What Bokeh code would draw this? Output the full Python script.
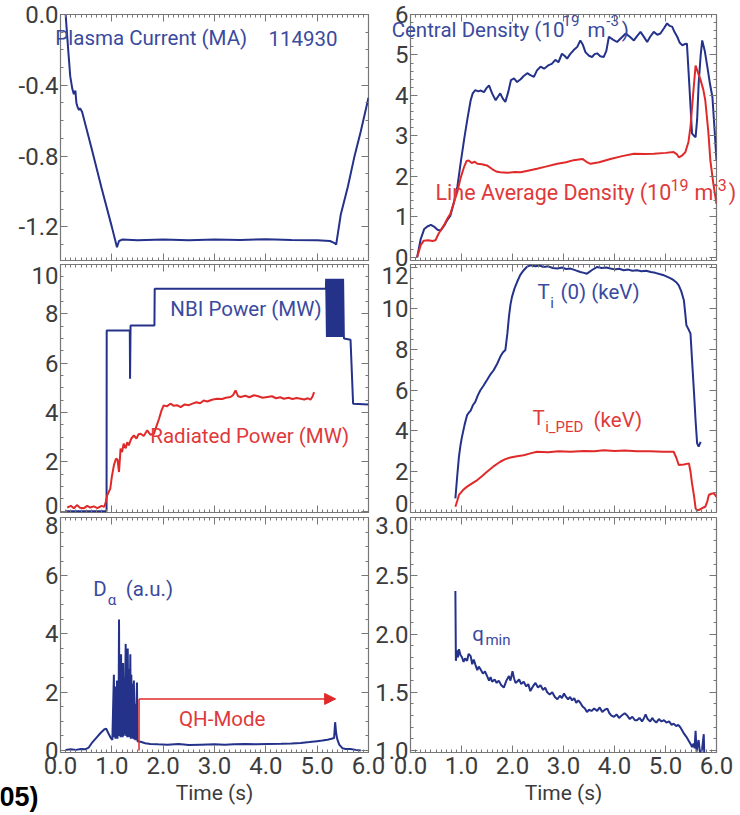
from bokeh.plotting import figure
from bokeh.models import (Range1d, LinearAxis, SingleIntervalTicker,
                          PrintfTickFormatter, Label, Arrow, NormalHead)
from bokeh.embed import file_html
from bokeh.resources import INLINE

# ------------------------------------------------------------------ data
TIME_RANGE = (0.0, 6.0)
SHOT = "114930"

# Plasma current (MA)
IP = [(0.10, 0.0), (0.12, -0.08), (0.15, -0.20), (0.19, -0.35), (0.23, -0.42),
      (0.26, -0.45), (0.29, -0.43), (0.31, -0.50), (0.33, -0.52), (0.36, -0.54),
      (0.38, -0.53), (0.42, -0.55), (0.60, -0.75), (0.80, -0.98), (1.00, -1.20),
      (1.10, -1.315), (1.14, -1.28), (1.20, -1.272), (1.50, -1.276), (2.00, -1.271),
      (2.50, -1.275), (3.00, -1.272), (3.50, -1.274), (4.00, -1.270), (4.50, -1.274),
      (5.00, -1.276), (5.25, -1.28), (5.33, -1.29), (5.37, -1.30), (5.46, -1.13),
      (5.60, -0.97), (5.72, -0.81), (5.85, -0.66), (6.00, -0.47)]

# Central density (1e19 m^-3)
NE0 = [(0.13, 0.00), (0.20, 0.45), (0.27, 0.70), (0.33, 0.76), (0.40, 0.80), (0.46, 0.76),
       (0.53, 0.68), (0.59, 0.66), (0.66, 0.78), (0.72, 0.92), (0.78, 1.02), (0.85, 1.35),
       (0.92, 1.75), (0.98, 2.30), (1.05, 2.90), (1.12, 3.45), (1.18, 3.88), (1.22, 4.05),
       (1.27, 4.13), (1.33, 4.10), (1.38, 4.12), (1.44, 4.08), (1.49, 4.18), (1.54, 4.25),
       (1.60, 4.05), (1.67, 3.88), (1.72, 3.98), (1.76, 4.05), (1.81, 3.92), (1.86, 3.84),
       (1.92, 4.10), (1.97, 4.38), (2.03, 4.42), (2.09, 4.33), (2.16, 4.40), (2.22, 4.48),
       (2.29, 4.55), (2.35, 4.50), (2.42, 4.46), (2.48, 4.62), (2.55, 4.71), (2.62, 4.66),
       (2.71, 4.75), (2.77, 4.78), (2.84, 4.88), (2.90, 4.82), (2.97, 5.03), (3.02, 4.98),
       (3.07, 4.91), (3.13, 5.02), (3.20, 5.12), (3.27, 5.20), (3.33, 5.36), (3.38, 5.25),
       (3.43, 5.07), (3.50, 4.98), (3.56, 4.95), (3.61, 5.02), (3.66, 5.04), (3.72, 4.97),
       (3.79, 4.95), (3.84, 5.10), (3.89, 5.45), (3.97, 5.38), (4.05, 5.32), (4.13, 5.42),
       (4.22, 5.53), (4.30, 5.45), (4.38, 5.36), (4.45, 5.48), (4.51, 5.57), (4.58, 5.44),
       (4.64, 5.32), (4.70, 5.45), (4.77, 5.57), (4.84, 5.50), (4.90, 5.53), (4.97, 5.66),
       (5.03, 5.78), (5.08, 5.72), (5.13, 5.70), (5.18, 5.56), (5.23, 5.45), (5.28, 5.30),
       (5.33, 5.24), (5.38, 5.27), (5.42, 5.28), (5.47, 4.20), (5.52, 3.06), (5.56, 3.00),
       (5.59, 2.97), (5.62, 3.40), (5.65, 4.29), (5.69, 5.00), (5.72, 5.36), (5.77, 5.10),
       (5.82, 4.71), (5.87, 4.30), (5.92, 3.96), (5.97, 3.00), (6.00, 2.39)]

# Line average density (1e19 m^-3)
NEL = [(0.13, 0.00), (0.20, 0.30), (0.26, 0.41), (0.35, 0.42), (0.43, 0.40), (0.49, 0.42),
       (0.55, 0.58), (0.59, 0.66), (0.66, 0.80), (0.72, 0.95), (0.78, 1.07), (0.85, 1.35),
       (0.92, 1.62), (0.98, 1.95), (1.05, 2.23), (1.10, 2.38), (1.14, 2.39), (1.20, 2.33),
       (1.26, 2.36), (1.31, 2.31), (1.40, 2.30), (1.50, 2.27), (1.60, 2.18), (1.68, 2.12),
       (1.76, 2.10), (1.90, 2.09), (2.05, 2.11), (2.16, 2.10), (2.30, 2.14), (2.48, 2.19),
       (2.65, 2.24), (2.88, 2.31), (3.05, 2.35), (3.20, 2.40), (3.37, 2.43), (3.45, 2.36),
       (3.53, 2.31), (3.70, 2.35), (3.92, 2.43), (4.15, 2.50), (4.38, 2.56), (4.60, 2.55),
       (4.77, 2.56), (5.00, 2.58), (5.16, 2.60), (5.22, 2.55), (5.26, 2.47), (5.33, 2.52),
       (5.39, 2.60), (5.45, 2.85), (5.49, 3.22), (5.54, 4.00), (5.59, 4.74), (5.64, 4.55),
       (5.69, 4.37), (5.74, 4.15), (5.78, 3.88), (5.84, 3.10), (5.88, 2.39), (5.94, 1.80),
       (6.00, 1.32)]

# NBI power (MW), including the modulated phase near the end
NBI = [(0.10, 0.0), (0.897, 0.0), (0.90, 7.33), (1.35, 7.33), (1.355, 5.37), (1.365, 7.53),
       (1.83, 7.53), (1.835, 9.02), (5.17, 9.02),
       (5.175, 9.42), (5.19, 7.06), (5.205, 9.42), (5.22, 7.06), (5.235, 9.42), (5.25, 7.06),
       (5.265, 9.42), (5.28, 7.06), (5.295, 9.42), (5.31, 7.06), (5.325, 9.42), (5.34, 7.06),
       (5.355, 9.42), (5.37, 7.06), (5.385, 9.42), (5.40, 7.06), (5.415, 9.42), (5.43, 7.06),
       (5.445, 9.42), (5.46, 7.06), (5.475, 9.42), (5.49, 7.06), (5.505, 9.42), (5.52, 7.06),
       (5.525, 7.00), (5.65, 6.95), (5.70, 4.36), (6.00, 4.33)]

# Radiated power (MW)
PRAD = [(0.13, 0.15), (0.20, 0.22), (0.26, 0.12), (0.32, 0.25), (0.38, 0.14), (0.45, 0.12),
        (0.52, 0.22), (0.58, 0.15), (0.65, 0.20), (0.72, 0.13), (0.80, 0.22), (0.85, 0.18),
        (0.88, 0.35), (0.91, 0.65), (0.97, 0.92), (1.00, 1.40), (1.04, 1.86), (1.08, 2.13),
        (1.11, 2.10), (1.14, 1.59), (1.17, 2.54), (1.20, 2.40), (1.23, 2.74), (1.27, 2.55),
        (1.30, 2.80), (1.33, 2.67), (1.38, 2.95), (1.43, 3.07), (1.48, 2.95), (1.52, 3.12),
        (1.56, 3.14), (1.62, 3.05), (1.69, 3.28), (1.75, 3.10), (1.82, 3.14), (1.87, 3.45),
        (1.92, 3.75), (1.97, 4.10), (2.01, 4.29), (2.07, 4.25), (2.14, 4.36), (2.20, 4.28),
        (2.27, 4.30), (2.34, 4.22), (2.42, 4.33), (2.50, 4.30), (2.57, 4.36), (2.65, 4.42),
        (2.72, 4.38), (2.79, 4.49), (2.86, 4.45), (2.95, 4.52), (3.05, 4.56), (3.15, 4.55),
        (3.22, 4.60), (3.31, 4.63), (3.36, 4.70), (3.41, 4.90), (3.46, 4.66), (3.51, 4.63),
        (3.60, 4.68), (3.68, 4.62), (3.77, 4.70), (3.85, 4.66), (3.94, 4.60), (4.03, 4.63),
        (4.12, 4.66), (4.20, 4.58), (4.28, 4.62), (4.35, 4.56), (4.44, 4.60), (4.52, 4.55),
        (4.60, 4.59), (4.68, 4.56), (4.75, 4.53), (4.82, 4.58), (4.87, 4.52), (4.91, 4.65),
        (4.94, 4.83)]

# Central ion temperature (keV)
TI0 = [(0.88, 0.69), (0.92, 1.90), (0.95, 2.74), (0.98, 3.30), (1.01, 3.72), (1.06, 4.30),
       (1.11, 4.78), (1.15, 4.92), (1.18, 5.00), (1.22, 5.25), (1.27, 5.43), (1.32, 5.75),
       (1.37, 6.00), (1.43, 6.22), (1.50, 6.50), (1.56, 6.75), (1.63, 6.98), (1.70, 7.30),
       (1.76, 7.64), (1.81, 7.85), (1.86, 7.97), (1.90, 8.80), (1.93, 9.60), (1.96, 10.20),
       (1.99, 10.58), (2.04, 11.00), (2.09, 11.31), (2.15, 11.65), (2.22, 11.89), (2.28, 12.05),
       (2.35, 12.13), (2.45, 12.08), (2.53, 12.12), (2.61, 12.05), (2.70, 12.08), (2.79, 12.00),
       (2.88, 11.97), (2.97, 12.02), (3.05, 11.95), (3.14, 11.97), (3.24, 11.88), (3.33, 11.80),
       (3.40, 11.76), (3.46, 11.72), (3.56, 11.90), (3.66, 12.05), (3.75, 12.00), (3.84, 12.02),
       (3.92, 11.97), (4.00, 11.93), (4.09, 11.96), (4.18, 11.89), (4.27, 11.92), (4.35, 11.86),
       (4.44, 11.89), (4.53, 11.84), (4.62, 11.86), (4.71, 11.80), (4.80, 11.76), (4.88, 11.70),
       (4.97, 11.64), (5.05, 11.55), (5.11, 11.48), (5.16, 11.40), (5.21, 11.30), (5.26, 11.15),
       (5.31, 10.85), (5.36, 10.42), (5.39, 9.70), (5.41, 9.19), (5.45, 9.00), (5.49, 8.78),
       (5.52, 7.50), (5.56, 5.84), (5.59, 4.50), (5.62, 3.39), (5.65, 3.23), (5.67, 3.35),
       (5.69, 3.47)]

# Pedestal ion temperature (keV)
TIPED = [(0.88, 0.28), (0.92, 0.60), (0.95, 0.86), (1.03, 1.10), (1.11, 1.27), (1.20, 1.42),
         (1.31, 1.59), (1.40, 1.78), (1.50, 2.00), (1.62, 2.25), (1.76, 2.49), (1.86, 2.62),
         (1.96, 2.70), (2.09, 2.76), (2.22, 2.81), (2.35, 2.90), (2.48, 2.98), (2.70, 2.96),
         (2.90, 3.00), (3.14, 2.98), (3.40, 3.02), (3.60, 3.00), (3.79, 3.06), (4.00, 3.02),
         (4.20, 3.04), (4.44, 3.00), (4.70, 3.01), (4.95, 2.98), (5.16, 2.98), (5.21, 2.70),
         (5.26, 2.33), (5.36, 2.36), (5.46, 2.41), (5.49, 2.00), (5.52, 1.43), (5.56, 0.80),
         (5.59, 0.20), (5.62, 0.10), (5.65, 0.12), (5.72, 0.22), (5.78, 0.28), (5.82, 0.55),
         (5.85, 0.86), (5.90, 0.92), (5.95, 0.94), (6.00, 0.77)]

# D-alpha (a.u.)
DALPHA = [(0.10, 0.02), (0.20, 0.04), (0.30, 0.02), (0.40, 0.05), (0.48, 0.04), (0.55, 0.10),
          (0.62, 0.28), (0.71, 0.46), (0.78, 0.60), (0.85, 0.72), (0.89, 0.75), (0.93, 0.60),
          (0.97, 0.46), (1.01, 0.36),
          (1.04, 2.60), (1.05, 0.45), (1.06, 2.20), (1.07, 0.40), (1.085, 1.80), (1.095, 0.45),
          (1.10, 2.40), (1.11, 0.40), (1.12, 1.90), (1.13, 0.50), (1.14, 4.50), (1.15, 0.55),
          (1.16, 2.80), (1.17, 0.45), (1.18, 3.30), (1.19, 0.50), (1.20, 2.20), (1.21, 0.45),
          (1.22, 3.00), (1.23, 0.50), (1.24, 2.50), (1.25, 0.55), (1.27, 3.66), (1.28, 0.50),
          (1.29, 3.40), (1.30, 0.45), (1.31, 3.50), (1.32, 0.50), (1.33, 2.80), (1.34, 0.45),
          (1.36, 3.30), (1.37, 0.40), (1.38, 2.60), (1.39, 0.45), (1.40, 2.30), (1.41, 0.40),
          (1.43, 2.40), (1.44, 0.38), (1.45, 1.60), (1.46, 0.35), (1.49, 2.33), (1.50, 0.32),
          (1.56, 0.30), (1.65, 0.25), (1.75, 0.22), (1.90, 0.21), (2.08, 0.20), (2.30, 0.22),
          (2.50, 0.19), (2.73, 0.20), (3.00, 0.21), (3.20, 0.20), (3.38, 0.21), (3.60, 0.22),
          (3.80, 0.21), (4.03, 0.22), (4.30, 0.23), (4.50, 0.24), (4.68, 0.26), (4.85, 0.29),
          (5.00, 0.32), (5.10, 0.34), (5.20, 0.37), (5.28, 0.40), (5.33, 0.43), (5.35, 0.97),
          (5.37, 0.60), (5.39, 0.40), (5.43, 0.20), (5.49, 0.08), (5.55, 0.05), (5.65, 0.05),
          (5.75, 0.02), (5.85, 0.00)]

# QH-mode phase
QH_START, QH_END, QH_LEVEL = 1.53, 5.36, 1.77

# Minimum safety factor
QMIN = [(0.88, 2.37), (0.89, 1.77), (0.91, 1.86), (0.93, 1.80), (0.95, 1.87), (0.98, 1.82),
        (1.01, 1.80), (1.04, 1.76), (1.07, 1.79), (1.11, 1.77), (1.14, 1.83), (1.18, 1.81),
        (1.21, 1.74), (1.24, 1.78), (1.27, 1.74), (1.31, 1.69), (1.34, 1.72), (1.37, 1.70),
        (1.42, 1.66), (1.46, 1.68), (1.50, 1.64), (1.54, 1.60), (1.57, 1.63), (1.60, 1.59),
        (1.65, 1.61), (1.69, 1.58), (1.73, 1.60), (1.78, 1.56), (1.83, 1.54), (1.88, 1.60),
        (1.93, 1.64), (1.96, 1.60), (2.00, 1.68), (2.03, 1.62), (2.06, 1.58), (2.09, 1.59),
        (2.13, 1.61), (2.17, 1.57), (2.22, 1.59), (2.27, 1.55), (2.31, 1.57), (2.35, 1.51),
        (2.40, 1.55), (2.45, 1.58), (2.50, 1.54), (2.55, 1.56), (2.60, 1.52), (2.64, 1.54),
        (2.68, 1.50), (2.73, 1.48), (2.78, 1.50), (2.83, 1.46), (2.88, 1.44), (2.93, 1.47),
        (2.97, 1.45), (3.01, 1.49), (3.05, 1.46), (3.09, 1.44), (3.13, 1.46), (3.17, 1.43),
        (3.21, 1.45), (3.25, 1.41), (3.29, 1.43), (3.33, 1.41), (3.37, 1.38), (3.42, 1.36),
        (3.46, 1.33), (3.50, 1.35), (3.55, 1.34), (3.60, 1.36), (3.66, 1.34), (3.71, 1.37),
        (3.76, 1.33), (3.81, 1.35), (3.86, 1.36), (3.90, 1.32), (3.94, 1.30), (3.99, 1.29),
        (4.04, 1.31), (4.09, 1.28), (4.14, 1.30), (4.20, 1.32), (4.25, 1.30), (4.30, 1.27),
        (4.35, 1.29), (4.40, 1.26), (4.44, 1.26), (4.49, 1.28), (4.54, 1.25), (4.58, 1.28),
        (4.61, 1.31), (4.65, 1.27), (4.70, 1.25), (4.74, 1.28), (4.77, 1.26), (4.82, 1.24),
        (4.87, 1.27), (4.92, 1.25), (4.97, 1.26), (5.02, 1.24), (5.07, 1.25), (5.12, 1.22),
        (5.16, 1.23), (5.21, 1.21), (5.25, 1.22), (5.29, 1.20), (5.33, 1.17), (5.37, 1.14),
        (5.42, 1.11), (5.46, 1.08), (5.50, 1.05), (5.52, 1.03), (5.55, 1.06), (5.57, 1.02),
        (5.59, 1.17), (5.61, 0.99), (5.63, 1.05), (5.65, 1.09), (5.67, 1.00), (5.69, 0.97),
        (5.72, 1.02), (5.75, 1.14), (5.76, 0.97)]

# ------------------------------------------------------------------ style
W, H = 740, 815
FONT = "Roboto"
BLUE = "#24328a"
RED = "#e02a2a"
BLUE_TXT = "#3a4a9e"
RED_TXT = "#e0393b"
TICK_TXT = "#3c3c3c"
FRAME = "#777777"
MAIN_FS = "20.5px"
SUB_FS = "15px"
RED_FS = "21.5px"
RED_SUB_FS = "16px"
TICK_FS = "24px"
AXIS_FS = "21px"
STACK = {"position": "absolute", "top": "0px", "left": "0px"}

LEFT_COL = (60, 368)
RIGHT_COL = (410, 716)
ROW1 = (14, 260)
ROW2 = (264, 512)
ROW3 = (517, 752)

FIGS = []


def style_axis(ax, ticker):
    ax.ticker = ticker
    ax.axis_line_color = None
    ax.major_tick_in = 7
    ax.major_tick_out = 0
    ax.minor_tick_in = 3
    ax.minor_tick_out = 0
    ax.major_tick_line_color = FRAME
    ax.minor_tick_line_color = FRAME
    ax.major_label_text_font_size = "1px"
    ax.major_label_text_alpha = 0
    ax.major_label_standoff = 0


def show_labels(ax, fmt, standoff):
    ax.formatter = PrintfTickFormatter(format=fmt)
    ax.major_label_text_font = FONT
    ax.major_label_text_font_size = TICK_FS
    ax.major_label_text_color = TICK_TXT
    ax.major_label_text_alpha = 1
    ax.major_label_standoff = standoff


def panel(col, row, yr, ystep, yminor, yfmt, x_labels=False, moved=None):
    """Main plot (frame, axes, curves) plus a transparent overlay figure that
    shares the same data->pixel mapping but spans the whole canvas, so that
    annotation texts are not clipped to the frame."""
    (l, r), (t, b) = col, row
    p = figure(width=W, height=H, output_backend="svg", toolbar_location=None,
               x_range=Range1d(*TIME_RANGE), y_range=Range1d(*yr),
               min_border_left=l, min_border_right=W - r,
               min_border_top=t, min_border_bottom=H - b,
               border_fill_color=None, background_fill_color=None,
               outline_line_color=FRAME, outline_line_width=1.2, styles=STACK)
    p.grid.visible = False
    p.add_layout(LinearAxis(), "above")
    p.add_layout(LinearAxis(), "right")
    for ax in list(p.below) + list(p.above):
        style_axis(ax, SingleIntervalTicker(interval=1, num_minor_ticks=10))
    for ax in list(p.left) + list(p.right):
        style_axis(ax, SingleIntervalTicker(interval=ystep, num_minor_ticks=yminor))
    yax = p.left[0]
    show_labels(yax, yfmt, 2)
    if x_labels:
        xax = p.below[0]
        show_labels(xax, "%.1f", 4)
        xax.axis_label = "Time (s)"
        xax.axis_label_text_font = FONT
        xax.axis_label_text_font_size = AXIS_FS
        xax.axis_label_text_font_style = "normal"
        xax.axis_label_text_color = TICK_TXT
        xax.axis_label_standoff = 4

    # overlay with extended ranges (same scale, full-canvas frame)
    sx = (r - l) / (TIME_RANGE[1] - TIME_RANGE[0])
    sy = (b - t) / (yr[1] - yr[0])
    o = figure(width=W, height=H, output_backend="svg", toolbar_location=None,
               x_range=Range1d(TIME_RANGE[0] - l / sx, TIME_RANGE[1] + (W - r) / sx),
               y_range=Range1d(yr[0] - (H - b) / sy, yr[1] + t / sy),
               min_border=0, x_axis_location=None, y_axis_location=None,
               border_fill_color=None, background_fill_color=None,
               outline_line_color=None, styles=STACK)
    o.grid.visible = False

    if moved:
        yax.major_label_overrides = {k: "" for k in moved}
        for k, ypos in moved.items():
            o.add_layout(Label(x=0, y=ypos, x_offset=-2, text=yfmt % k,
                               text_align="right", text_baseline="middle",
                               text_font=FONT, text_font_size=TICK_FS,
                               text_color=TICK_TXT))
    FIGS.extend([p, o])
    return p, o


def curve(p, data, color):
    xs = [d[0] for d in data]
    ys = [d[1] for d in data]
    p.line(xs, ys, line_color=color, line_width=2)


def txt(o, x, y, s, color, size=MAIN_FS, align="left"):
    o.add_layout(Label(x=x, y=y, text=s, text_color=color, text_font=FONT,
                       text_font_size=size, text_align=align, text_baseline="middle"))


# Panel 1: plasma current
p1, o1 = panel(LEFT_COL, ROW1, (-1.39, 0.0), 0.4, 4, "%.1f")
curve(p1, IP, BLUE)
txt(o1, -0.10, -0.135, "Plasma Current (MA)", BLUE_TXT)
txt(o1, 4.05, -0.135, SHOT, BLUE_TXT)

# Panel 2: densities
p2, o2 = panel(RIGHT_COL, ROW1, (-0.08, 6.0), 1, 5, "%d")
curve(p2, NE0, BLUE)
curve(p2, NEL, RED)
txt(o2, -0.37, 5.61, "Central Density (10", BLUE_TXT)
txt(o2, 2.98, 5.86, "19", BLUE_TXT, SUB_FS)
txt(o2, 3.47, 5.61, "m", BLUE_TXT)
txt(o2, 3.84, 5.86, "-3", BLUE_TXT, SUB_FS)
txt(o2, 4.14, 5.61, ")", BLUE_TXT)
txt(o2, 0.49, 1.60, "Line Average Density (10", RED_TXT, RED_FS)
txt(o2, 5.10, 1.79, "19", RED_TXT, RED_SUB_FS)
txt(o2, 5.57, 1.60, "m", RED_TXT, RED_FS)
txt(o2, 5.94, 1.79, "-3", RED_TXT, RED_SUB_FS)
txt(o2, 6.24, 1.60, ")", RED_TXT, RED_FS)

# Panel 3: powers
p3, o3 = panel(LEFT_COL, ROW2, (-0.05, 10.0), 2, 4, "%d", moved={10: 9.54, 0: 0.24})
curve(p3, NBI, BLUE)
curve(p3, PRAD, RED)
txt(o3, 2.14, 8.2, "NBI Power (MW)", BLUE_TXT)
txt(o3, 1.75, 3.06, "Radiated Power (MW)", RED_TXT)

# Panel 4: ion temperatures
p4, o4 = panel(RIGHT_COL, ROW2, (0.0, 12.17), 2, 4, "%d", moved={12: 11.64, 0: 0.45})
curve(p4, TI0, BLUE)
curve(p4, TIPED, RED)
txt(o4, 2.49, 10.81, "T", BLUE_TXT)
txt(o4, 2.74, 10.30, "i", BLUE_TXT, SUB_FS)
txt(o4, 2.94, 10.81, "(0) (keV)", BLUE_TXT)
txt(o4, 2.39, 4.63, "T", RED_TXT)
txt(o4, 2.64, 4.22, "i_PED", RED_TXT, SUB_FS)
txt(o4, 3.59, 4.53, "(keV)", RED_TXT)

# Panel 5: D-alpha
p5, o5 = panel(LEFT_COL, ROW3, (-0.07, 8.0), 2, 4, "%d", x_labels=True, moved={8: 7.71})
curve(p5, DALPHA, BLUE)
p5.line([QH_START, QH_START], [0.0, QH_LEVEL], line_color=RED, line_width=1.5)
p5.add_layout(Arrow(end=NormalHead(size=11, fill_color=RED, line_color=RED),
                    x_start=QH_START, y_start=QH_LEVEL, x_end=QH_END, y_end=QH_LEVEL,
                    line_color=RED, line_width=1.5))
txt(o5, 3.15, 1.09, "QH-Mode", RED_TXT, MAIN_FS, "center")
txt(o5, 0.64, 5.54, "D", BLUE_TXT)
txt(o5, 0.92, 5.18, "\u03b1", BLUE_TXT, SUB_FS)
txt(o5, 1.27, 5.54, "(a.u.)", BLUE_TXT)
o5.add_layout(Label(x=0, y=-1.61, x_offset=-22, text="05)", text_color="black",
                    text_font="Liberation Sans", text_font_style="bold",
                    text_font_size="27px", text_align="right", text_baseline="middle"))

# Panel 6: q_min
p6, o6 = panel(RIGHT_COL, ROW3, (0.983, 3.0), 0.5, 5, "%.1f", x_labels=True, moved={3.0: 2.93})
curve(p6, QMIN, BLUE)
txt(o6, 1.21, 2.0, "q", BLUE_TXT)
txt(o6, 1.47, 1.95, "min", BLUE_TXT, SUB_FS)

open("out.html", "w").write(file_html(FIGS, INLINE))
